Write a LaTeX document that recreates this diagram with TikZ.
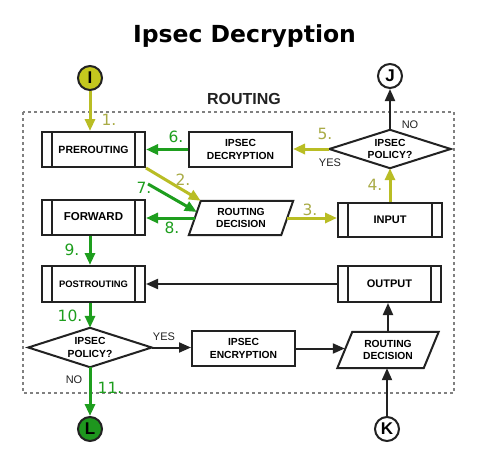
\documentclass[tikz,border=0pt]{standalone}
\usepackage{fontspec}
\setmainfont{Liberation Sans}
\newfontfamily\dvs{DejaVu Sans}
\usetikzlibrary{arrows.meta,calc}
\definecolor{ylw}{HTML}{B9BD24}
\definecolor{ylwfill}{HTML}{C4C81E}
\definecolor{ylwtxt}{HTML}{A9AB45}
\definecolor{grn}{HTML}{1E9E1E}
\definecolor{grnfill}{HTML}{1E961E}
\definecolor{ink}{HTML}{222222}
\definecolor{dotc}{HTML}{808080}
\begin{document}
\begin{tikzpicture}[x=1pt,y=-1pt,
  txt/.style={inner sep=0pt,align=center,font=\fontsize{10.3}{12.5}\selectfont\bfseries},
  box/.style={txt,draw=ink,line width=2pt,minimum width=103pt,minimum height=35pt},
  proc/.style={box,path picture={\draw[ink,line width=2pt]
     ([xshift=10pt]path picture bounding box.north west) -- ([xshift=10pt]path picture bounding box.south west)
     ([xshift=-10pt]path picture bounding box.north east) -- ([xshift=-10pt]path picture bounding box.south east);}},
  dia/.style={txt,minimum width=121pt,minimum height=38pt},
  para/.style={txt,minimum width=90pt,minimum height=35pt},
  outl/.style={draw=ink,line width=2pt,line join=miter},
  circ/.style={circle,draw=ink,line width=2pt,minimum size=24pt,inner sep=0pt,font=\fontsize{17}{17}\selectfont\bfseries},
  tip/.style={-{Triangle[length=12pt,width=10pt]}},
  ya/.style={draw=ylw,line width=3pt,tip},
  ga/.style={draw=grn,line width=3pt,tip},
  ba/.style={draw=ink,line width=2pt,tip},
  numy/.style={inner sep=0pt,text=ylwtxt,font=\dvs\fontsize{15.5}{16}\selectfont},
  numg/.style={inner sep=0pt,text=grn,font=\dvs\fontsize{15.5}{16}\selectfont},
  yn/.style={inner sep=0pt,text=ink,font=\fontsize{11}{11}\selectfont}]
\fill[white] (0,0) rectangle (499,464);
\useasboundingbox (0,0) rectangle (499,464);
% title
\node[anchor=base,inner sep=0pt,font=\dvs\bfseries\fontsize{23.5}{24}\selectfont] (title) at (244.5,42) {Ipsec Decryption};
\node[inner sep=0pt,font=\fontsize{16}{16}\selectfont\bfseries,text=ink] (routing) at (244,98.5) {ROUTING};
\draw[dotc,line width=2pt,dash pattern=on 3pt off 3pt] (23,112) rectangle (454,393);
% circles
\node[circ,fill=ylwfill] (I) at (90,78) {I};
\node[circ,fill=white] (J) at (390,76) {J};
\node[circ,fill=white] (K) at (387,429) {K};
\node[circ,fill=grnfill] (L) at (90,429) {L};
% boxes
\node[proc,font=\fontsize{10.5}{12}\selectfont\bfseries] (pre) at (93.5,149.5) {PREROUTING};
\node[box] (dec) at (240.5,149.5) {IPSEC\\DECRYPTION};
\node[proc,font=\fontsize{11.5}{12}\selectfont\bfseries] (fwd) at (93.5,217) {FORWARD};
\node[proc,minimum width=104pt,minimum height=34pt,font=\fontsize{11}{12}\selectfont\bfseries] (inp) at (390,220) {INPUT};
\node[proc,minimum height=36pt,font=\fontsize{9.4}{12}\selectfont\bfseries] (post) at (93.5,284) {POSTROUTING};
\node[proc,minimum height=36pt,font=\fontsize{11}{12}\selectfont\bfseries] (out) at (389.5,284) {OUTPUT};
\node[box] (enc) at (243.5,348.5) {IPSEC\\ENCRYPTION};
% diamonds
\node[dia] (pol1) at (390,149) {IPSEC\\POLICY?};
\draw[outl] (pol1.north) -- (pol1.east) -- (pol1.south) -- (pol1.west) -- cycle;
\node[dia,minimum width=123pt,minimum height=39pt] (pol2) at (90,347.5) {IPSEC\\POLICY?};
\draw[outl] (pol2.north) -- (pol2.east) -- (pol2.south) -- (pol2.west) -- cycle;
% parallelograms
\node[para,minimum width=92pt,minimum height=34pt] (rd1) at (241,218) {ROUTING\\DECISION};
\draw[outl] ([xshift=-6pt]rd1.south west) -- ([xshift=6pt]rd1.north west) -- ([xshift=6pt]rd1.north east) -- ([xshift=-6pt]rd1.south east) -- cycle;
\node[para,minimum width=86pt,minimum height=36pt] (rd2) at (388,350) {ROUTING\\DECISION};
\draw[outl] ([xshift=-7.5pt]rd2.south west) -- ([xshift=7.5pt]rd2.north west) -- ([xshift=7.5pt]rd2.north east) -- ([xshift=-7.5pt]rd2.south east) -- cycle;
% connectors
\draw[ya] (I.south) -- (I.south |- pre.north);
\draw[ya] (pre.south east) -- ([xshift=6pt]rd1.north west);
\coordinate (c7) at ([shift={(2,16)}]pre.south east);
\draw[ga] (c7) -- ([shift={(2,-6)}]rd1.west);
\draw[ga] (rd1.west) -- (rd1.west -| fwd.east);
\draw[ya] (rd1.east) -- (rd1.east -| inp.west);
\draw[ya] (inp.north) -- (pol1.south);
\draw[ya] (pol1.west) -- (pol1.west -| dec.east);
\draw[ga] (dec.west) -- (pre.east);
\draw[ba] (pol1.north) -- (J.south);
\draw[ga] (fwd.south -| I) -- (post.north -| I);
\draw[ba] (out.west) -- (out.west -| post.east);
\draw[ga] (post.south -| I) -- (pol2.north);
\draw[ga] (pol2.south) -- (L.north);
\draw[ba] (pol2.east) -- (pol2.east -| enc.west);
\draw[ba] (enc.east) -- (enc.east -| rd2.west);
\draw[ba] (rd2.north) -- (rd2.north |- out.south);
\draw[ba] (K.north) -- (K.north |- rd2.south);
% labels
\node[numy] (n1) at (109,120) {1.};
\node[numy] (n2) at (183,180) {2.};
\node[numy] (n3) at (310,210) {3.};
\node[numy] (n4) at (375,185) {4.};
\node[numy] (n5) at (325,134) {5.};
\node[numg] (n6) at (176,137) {6.};
\node[numg] (n7) at (144,188) {7.};
\node[numg] (n8) at (172,228) {8.};
\node[numg] (n9) at (72,250) {9.};
\node[numg] (n10) at (70,316) {10.};
\node[numg] (n11) at (110,388) {11.};
\node[yn] (yes1) at (330,163) {YES};
\node[yn] (no1) at (410,125) {NO};
\node[yn] (yes2) at (164,337) {YES};
\node[yn] (no2) at (74,380) {NO};
\end{tikzpicture}
\end{document}
